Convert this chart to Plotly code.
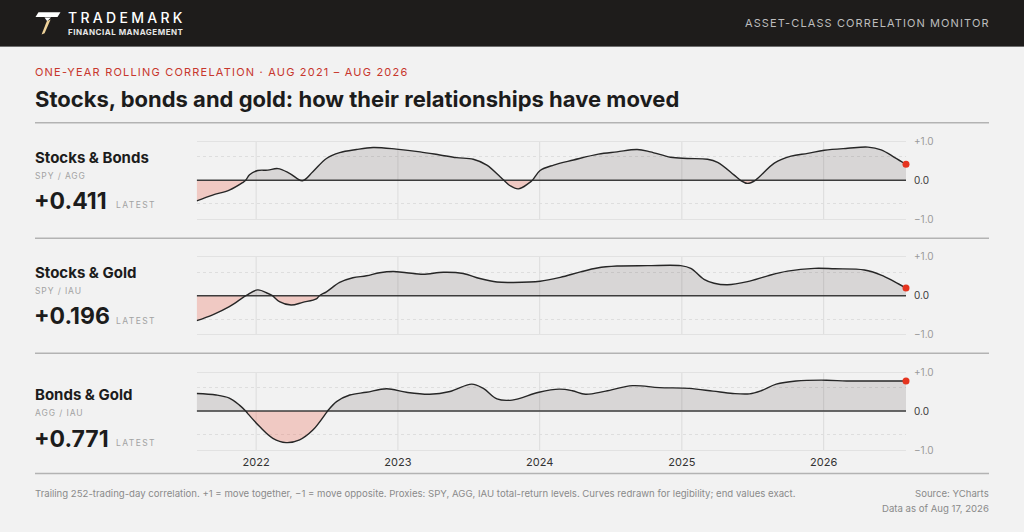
import plotly.graph_objects as go

W, H = 1024, 532

# ---------------- data ----------------
x_start, x_end = "2021-08-01", "2026-08-01"

sb_dates = ["2021-08-01", "2021-09-11", "2021-10-24", "2021-11-27", "2021-12-05", "2021-12-15",
            "2022-01-05", "2022-01-31", "2022-02-26", "2022-03-28", "2022-04-30", "2022-05-27",
            "2022-07-01", "2022-08-04", "2022-09-16", "2022-10-29", "2022-12-28", "2023-02-27",
            "2023-04-19", "2023-06-01", "2023-07-14", "2023-08-18", "2023-09-21", "2023-10-01",
            "2023-10-17", "2023-11-07", "2023-12-03", "2023-12-13", "2024-01-02", "2024-02-06",
            "2024-03-28", "2024-05-31", "2024-07-18", "2024-09-08", "2024-10-12", "2024-12-03",
            "2025-01-15", "2025-03-08", "2025-04-03", "2025-05-15", "2025-06-01", "2025-06-19",
            "2025-07-09", "2025-08-27", "2025-10-09", "2025-11-21", "2026-01-03", "2026-03-04",
            "2026-04-25", "2026-05-29", "2026-07-02", "2026-08-01"]
sb_vals = [-0.53, -0.38, -0.25, -0.06, 0.0, 0.14,
           0.25, 0.26, 0.30, 0.18, -0.01, 0.22,
           0.56, 0.71, 0.79, 0.84, 0.80, 0.73,
           0.65, 0.58, 0.54, 0.39, 0.09, 0.0,
           -0.14, -0.22, -0.08, 0.0, 0.25, 0.39,
           0.52, 0.67, 0.73, 0.79, 0.73, 0.59,
           0.56, 0.54, 0.46, 0.14, 0.0, -0.08,
           0.0, 0.44, 0.62, 0.69, 0.77, 0.82,
           0.85, 0.78, 0.59, 0.411]

sg_dates = ["2021-08-01", "2021-09-11", "2021-10-24", "2021-12-06", "2022-01-05", "2022-01-31",
            "2022-02-12", "2022-03-02", "2022-04-01", "2022-05-01", "2022-06-05", "2022-06-13",
            "2022-07-01", "2022-08-04", "2022-09-07", "2022-10-12", "2022-11-15", "2022-12-20",
            "2023-01-23", "2023-03-07", "2023-04-28", "2023-06-18", "2023-07-31", "2023-09-13",
            "2023-10-25", "2024-01-02", "2024-02-23", "2024-04-15", "2024-05-28", "2024-07-18",
            "2024-10-04", "2024-12-29", "2025-01-24", "2025-02-27", "2025-03-25", "2025-04-28",
            "2025-06-19", "2025-08-10", "2025-09-30", "2025-12-08", "2026-01-29", "2026-04-16",
            "2026-05-29", "2026-07-02", "2026-08-01"]
sg_vals = [-0.64, -0.49, -0.28, 0.0, 0.15, 0.06,
           0.0, -0.15, -0.24, -0.17, -0.08, 0.0,
           0.10, 0.34, 0.46, 0.51, 0.59, 0.62,
           0.59, 0.55, 0.60, 0.57, 0.44, 0.35,
           0.34, 0.37, 0.47, 0.61, 0.71, 0.76,
           0.77, 0.77, 0.70, 0.42, 0.32, 0.28,
           0.36, 0.51, 0.63, 0.70, 0.69, 0.66,
           0.53, 0.36, 0.196]

bg_dates = ["2021-08-01", "2021-09-20", "2021-10-24", "2021-11-19", "2021-12-05", "2021-12-10",
            "2022-01-10", "2022-02-13", "2022-03-19", "2022-04-23", "2022-05-27", "2022-07-01",
            "2022-07-04", "2022-07-27", "2022-08-30", "2022-10-12", "2022-12-03", "2023-01-23",
            "2023-03-24", "2023-05-15", "2023-07-10", "2023-08-09", "2023-09-13", "2023-10-22",
            "2023-12-30", "2024-02-20", "2024-03-25", "2024-04-28", "2024-06-19", "2024-08-27",
            "2024-11-04", "2025-01-20", "2025-03-22", "2025-05-12", "2025-06-24", "2025-07-24",
            "2025-09-01", "2025-10-22", "2026-01-08", "2026-03-01", "2026-05-26", "2026-08-01"]
bg_vals = [0.45, 0.41, 0.33, 0.15, 0.0, -0.06,
           -0.40, -0.70, -0.81, -0.74, -0.49, -0.04,
           0.0, 0.24, 0.41, 0.48, 0.57, 0.48,
           0.43, 0.50, 0.69, 0.58, 0.31, 0.28,
           0.48, 0.56, 0.52, 0.43, 0.51, 0.65,
           0.60, 0.58, 0.51, 0.45, 0.44, 0.52,
           0.69, 0.77, 0.79, 0.77, 0.77, 0.771]

pair_names = ["Stocks &amp; Bonds", "Stocks &amp; Gold", "Bonds &amp; Gold"]
pair_tickers = ["SPY / AGG", "SPY / IAU", "AGG / IAU"]
latest_vals = [0.411, 0.196, 0.771]

year_ticks = ["2022-01-01", "2023-01-01", "2024-01-01", "2025-01-01", "2026-01-01"]
year_labels = ["2022", "2023", "2024", "2025", "2026"]
y_ticks = [-1, 0, 1]
y_labels = ["\u22121.0", '<span style="color:#3a3a3a">0.0</span>', "+1.0"]

series = [(sb_dates, sb_vals), (sg_dates, sg_vals), (bg_dates, bg_vals)]

# ---------------- style ----------------
BG = "#f2f2f2"
HEADER = "#1e1c1b"
FONT = "Inter"
LINE = "#262626"
POS_FILL = "rgba(90,80,80,0.17)"
NEG_FILL = "rgba(235,105,85,0.30)"
RED = "#e5341f"

def px(x):
    return x / W

def py(y):
    return 1 - y / H

centers = [180.3, 295.7, 411.0]
SCALE = 39.0
YR = 1.05
half = YR * SCALE
x_dom = [px(196.7), px(906.0)]

fig = go.Figure()

for i, (dts, vals) in enumerate(series):
    k = "" if i == 0 else str(i + 1)
    xa, ya = "x" + k, "y" + k
    pos = [max(v, 0) for v in vals]
    neg = [min(v, 0) for v in vals]
    common = dict(xaxis=xa, yaxis=ya, hoverinfo="skip", showlegend=False)
    fig.add_trace(go.Scatter(x=dts, y=pos, mode="lines", fill="tozeroy", fillcolor=POS_FILL,
                             line=dict(width=0, shape="spline", smoothing=1.0), **common))
    fig.add_trace(go.Scatter(x=dts, y=neg, mode="lines", fill="tozeroy", fillcolor=NEG_FILL,
                             line=dict(width=0, shape="spline", smoothing=1.0), **common))
    fig.add_trace(go.Scatter(x=[x_start, x_end], y=[0, 0], mode="lines",
                             line=dict(width=1.4, color="#3c3c3c"), **common))
    fig.add_trace(go.Scatter(x=dts, y=vals, mode="lines",
                             line=dict(width=1.4, color=LINE, shape="spline", smoothing=1.0), **common))
    fig.add_trace(go.Scatter(x=[dts[-1]], y=[vals[-1]], mode="markers", cliponaxis=False,
                             marker=dict(size=7, color=RED), **common))

    c = centers[i]
    dom = [py(c + half), py(c - half)]
    fig.layout["xaxis" + k] = dict(
        domain=x_dom, anchor=ya, type="date", range=[x_start, x_end], automargin=False,
        showgrid=False, zeroline=False, showline=False, ticks="",
        tickvals=year_ticks, ticktext=year_labels,
        showticklabels=(i == 2), tickfont=dict(family=FONT, size=11, color="#333333"),
        ticklabelstandoff=2, fixedrange=True,
        **({} if i == 0 else {"matches": "x"}))
    fig.layout["yaxis" + k] = dict(
        domain=dom, anchor=xa, range=[-YR, YR], side="right", automargin=False,
        tickvals=y_ticks, ticktext=y_labels, ticks="",
        tickfont=dict(family=FONT, size=10, color="#9a9a9a"),
        ticklabelstandoff=7,
        showgrid=True, gridcolor="#e2e2e2", gridwidth=1,
        zeroline=False, showline=False, fixedrange=True,
        minor=dict(tickvals=[-0.6, 0.6], showgrid=True, gridcolor="#dedede",
                   griddash="3px,3px", gridwidth=1, ticks=""))

shapes = []
# header band
shapes.append(dict(type="rect", xref="paper", yref="paper", x0=0, x1=1, y0=py(46), y1=1,
                   fillcolor=HEADER, line=dict(width=0), layer="below"))
shapes.append(dict(type="line", xref="paper", yref="paper", x0=0, x1=1, y0=py(46.5), y1=py(46.5),
                   line=dict(color="#6e6e6e", width=1)))
# logo
def path(pts):
    return "M " + " L ".join(f"{px(a):.5f},{py(b):.5f}" for a, b in pts) + " Z"
shapes.append(dict(type="path", xref="paper", yref="paper",
                   path=path([(38.5, 12.3), (60.5, 12.3), (57.5, 17.0), (35.5, 17.0)]),
                   fillcolor="#ffffff", line=dict(width=0)))
shapes.append(dict(type="path", xref="paper", yref="paper",
                   path=path([(44.5, 17.6), (51.0, 17.6), (47.2, 21.2)]),
                   fillcolor="#ffffff", line=dict(width=0)))
shapes.append(dict(type="path", xref="paper", yref="paper",
                   path=path([(46.8, 21.2), (50.6, 19.6), (44.6, 33.2), (41.6, 34.6)]),
                   fillcolor="#efd29a", line=dict(width=0)))
# separators
for yy in [122.7, 238.3, 353.3, 473.5]:
    shapes.append(dict(type="line", xref="paper", yref="paper", x0=px(35), x1=px(989),
                       y0=py(yy), y1=py(yy), line=dict(color="#b3b3b3", width=1.5)))
for i in range(3):
    k = "" if i == 0 else str(i + 1)
    for t in year_ticks:
        shapes.append(dict(type="line", xref="x" + k, yref="y" + k, x0=t, x1=t, y0=-1, y1=1,
                           line=dict(color="#dcdcdc", width=1), layer="below"))
fig.update_layout(shapes=shapes)

ann = []
PAD = 2  # annotation box padding compensation
def text(t, x, y, size, color, weight=400, xanchor="left", ls=None, family=FONT):
    if ls is not None:
        t = f'<span style="letter-spacing:{ls}px">{t}</span>'
    xx = x - PAD if xanchor == "left" else x + PAD
    ann.append(dict(text=t, x=px(xx), y=py(y), xref="paper", yref="paper", showarrow=False,
                    xanchor=xanchor, yanchor="middle", align=xanchor,
                    font=dict(family=family, size=size, color=color, weight=weight)))

text("TRADEMARK", 68, 17.7, 14, "#ffffff", 500, ls=3.3)
text("FINANCIAL MANAGEMENT", 68, 31.7, 8, "#e6e6e6", 700, ls=0.5)
text("ASSET-CLASS CORRELATION MONITOR", 990, 23.3, 11, "#bdbdbd", 400, xanchor="right", ls=1.1)
text("ONE-YEAR ROLLING CORRELATION \u00b7 AUG 2021 \u2013 AUG 2026", 35, 71.7, 11, "#c8372d", 400, ls=1.2)
text("Stocks, bonds and gold: how their relationships have moved", 35, 98.7, 22, "#1c1c1c", 700)

label_y = [(157.0, 176.0, 200.7, 205.5), (272.4, 291.4, 316.1, 320.9), (394.3, 412.7, 438.5, 443.0)]
for i in range(3):
    a, b, c2, d = label_y[i]
    text(pair_names[i], 35, a, 15, "#1c1c1c", 700)
    text(pair_tickers[i], 35, b, 8.5, "#a3a3a3", 400, ls=0.9)
    text(f"{latest_vals[i]:+.3f}", 34, c2, 23, "#1c1c1c", 700)
    text("LATEST", 116, d, 8.5, "#a3a3a3", 400, ls=1.4)

text("Trailing 252-trading-day correlation. +1 = move together, \u22121 = move opposite. "
     "Proxies: SPY, AGG, IAU total-return levels. Curves redrawn for legibility; end values exact.",
     35, 493.3, 9.6, "#8a8a8a", 400)
text("Source: YCharts", 989, 493.3, 9.6, "#8a8a8a", 400, xanchor="right")
text("Data as of Aug 17, 2026", 989, 508.3, 9.6, "#8a8a8a", 400, xanchor="right")

fig.update_layout(annotations=ann, width=W, height=H,
                  margin=dict(l=0, r=0, t=0, b=0, pad=0, autoexpand=False),
                  paper_bgcolor=BG, plot_bgcolor=BG, showlegend=False,
                  font=dict(family=FONT))

page_fix = (
    "var s=document.createElement('style');"
    "s.textContent='html,body{margin:0!important;padding:0!important;overflow:hidden!important;background:#f2f2f2;}';"
    "document.head.appendChild(s);"
)
fig.write_html("out.html", config={"displayModeBar": False}, post_script=page_fix)
